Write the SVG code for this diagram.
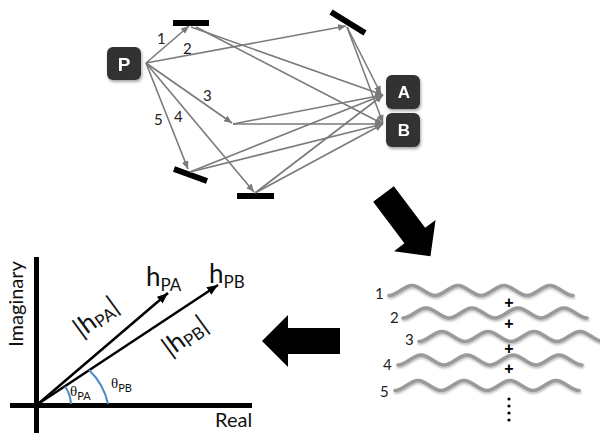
<svg xmlns="http://www.w3.org/2000/svg" width="600" height="433" viewBox="0 0 600 433">
<style>
  .lbl{font-family:"Lato","Liberation Sans",sans-serif;fill:#111}
  .dig{font-family:"Lato","Liberation Sans",sans-serif;font-size:15px;fill:#222}
  .box{fill:#333}
  .boxt{font-family:"Liberation Sans",sans-serif;font-weight:bold;fill:#fff;text-anchor:middle}
  .ray{stroke:#7a7a7a;stroke-width:1.6;fill:none;marker-end:url(#gh)}
  .mir{fill:#000}
  .vec{stroke:#000;stroke-width:2.5;fill:none;marker-end:url(#bh)}
  .axis{stroke:#000;stroke-width:5}
  .arc{stroke:#4a8ac4;stroke-width:2;fill:none}
  .wave{stroke:#9a9a9a;stroke-width:3.5;fill:none;stroke-linecap:round;filter:url(#sh)}
  .th{font-family:"Liberation Serif",serif;fill:#111}
  .plus{font-family:"Liberation Sans",sans-serif;font-size:16px;font-weight:bold;fill:#000;text-anchor:middle}
</style>
<defs>
  <marker id="gh" markerUnits="userSpaceOnUse" markerWidth="9" markerHeight="8" refX="8" refY="3.5" orient="auto">
    <path d="M0,0 L8,3.5 L0,7 z" fill="#7a7a7a"/>
  </marker>
  <marker id="bh" markerUnits="userSpaceOnUse" markerWidth="12" markerHeight="10" refX="11" refY="4.5" orient="auto">
    <path d="M0,0 L11,4.5 L0,9 z" fill="#000"/>
  </marker>
  <filter id="sh" x="-10%" y="-30%" width="120%" height="180%">
    <feDropShadow dx="0.5" dy="1.5" stdDeviation="1" flood-color="#000" flood-opacity="0.3"/>
  </filter>
  <filter id="bs" x="-20%" y="-20%" width="150%" height="150%">
    <feDropShadow dx="1" dy="2" stdDeviation="1.5" flood-color="#000" flood-opacity="0.35"/>
  </filter>
  <polygon id="bigarrow" points="0,-13 52,-13 52,-26 78,0 52,26 52,13 0,13" fill="#000"/>
  <path id="wave" d="M0,5 c8.3,0 14.7,-10 23,-10 c8.3,0 14.7,10 23,10 c8.3,0 14.7,-10 23,-10 c8.3,0 14.7,10 23,10 c8.3,0 14.7,-10 23,-10 c8.3,0 14.7,10 23,10 c8.3,0 14.7,-10 23,-10 c8.3,0 14.7,10 23,10"/>
</defs>
<rect width="600" height="433" fill="#fff"/>

<!-- mirrors -->
<g id="mirror-top"><rect class="mir" x="173" y="20" width="36" height="6"/></g>
<g id="mirror-topright"><line x1="331" y1="12" x2="365" y2="33" stroke="#000" stroke-width="6"/></g>
<g id="mirror-bottomleft"><line x1="174" y1="169" x2="207" y2="181" stroke="#000" stroke-width="6"/></g>
<g id="mirror-bottom"><rect class="mir" x="237" y="193" width="37" height="6"/></g>

<!-- connectors -->
<g id="connectors">
  <line class="ray" x1="146" y1="63" x2="189" y2="26"/>
  <line class="ray" x1="146" y1="63" x2="346" y2="26"/>
  <line class="ray" x1="146" y1="63" x2="232" y2="123"/>
  <line class="ray" x1="146" y1="63" x2="254" y2="192"/>
  <line class="ray" x1="146" y1="63" x2="188" y2="169"/>
  <line class="ray" x1="191" y1="27" x2="383" y2="95"/>
  <line class="ray" x1="196" y1="27" x2="383" y2="124"/>
  <line class="ray" x1="347" y1="27" x2="381" y2="94"/>
  <line class="ray" x1="347" y1="27" x2="383" y2="123"/>
  <line class="ray" x1="233" y1="124" x2="383" y2="95"/>
  <line class="ray" x1="233" y1="124" x2="383" y2="124"/>
  <line class="ray" x1="190" y1="172" x2="383" y2="95"/>
  <line class="ray" x1="190" y1="172" x2="383" y2="124"/>
  <line class="ray" x1="255" y1="193" x2="383" y2="95"/>
  <line class="ray" x1="255" y1="193" x2="383" y2="124"/>
</g>

<g id="ray-labels">
  <text class="dig" x="157" y="44">1</text>
  <text class="dig" x="183" y="54">2</text>
  <text class="dig" x="203" y="101">3</text>
  <text class="dig" x="174" y="122">4</text>
  <text class="dig" x="154" y="125">5</text>
</g>

<g id="node-P" filter="url(#bs)">
  <rect class="box" x="107" y="47" width="34" height="33" rx="6"/>
  <text class="boxt" x="124" y="71" font-size="19">P</text>
</g>
<g id="node-A" filter="url(#bs)">
  <rect class="box" x="386" y="75" width="34" height="34" rx="6"/>
  <text class="boxt" x="404" y="98" font-size="17">A</text>
</g>
<g id="node-B" filter="url(#bs)">
  <rect class="box" x="386" y="113" width="34" height="34" rx="6"/>
  <text class="boxt" x="404" y="136" font-size="17">B</text>
</g>

<!-- big arrows -->
<g id="arrow-diag"><use href="#bigarrow" transform="translate(383.5,194) rotate(53)"/></g>
<g id="arrow-left"><use href="#bigarrow" transform="translate(340,341) rotate(180)"/></g>

<!-- waves -->
<g id="waves">
  <use href="#wave" class="wave" transform="translate(389,290.5)"/>
  <use href="#wave" class="wave" transform="translate(403,313)"/>
  <use href="#wave" class="wave" transform="translate(419,336.5)"/>
  <use href="#wave" class="wave" transform="translate(398,360)"/>
  <use href="#wave" class="wave" transform="translate(395,385.5)"/>
  <text class="dig" x="375" y="299">1</text>
  <text class="dig" x="390" y="323">2</text>
  <text class="dig" x="405" y="345">3</text>
  <text class="dig" x="383" y="370">4</text>
  <text class="dig" x="380" y="397">5</text>
  <text class="plus" x="509" y="308">+</text>
  <text class="plus" x="509" y="329">+</text>
  <text class="plus" x="509" y="354">+</text>
  <text class="plus" x="509" y="374">+</text>
  <g fill="#000">
    <circle cx="509" cy="399" r="1.6"/>
    <circle cx="509" cy="406" r="1.6"/>
    <circle cx="509" cy="413" r="1.6"/>
    <circle cx="509" cy="420" r="1.6"/>
  </g>
</g>

<!-- phasor graph -->
<g id="graph">
  <line class="axis" x1="36.5" y1="257" x2="36.5" y2="433"/>
  <line class="axis" x1="10" y1="405.5" x2="252" y2="405.5"/>
  <line class="vec" x1="38" y1="404" x2="168" y2="293"/>
  <line class="vec" x1="38" y1="404" x2="218" y2="285"/>
  <path class="arc" d="M71,404 A33,33 0 0 0 65,386.5"/>
  <path class="arc" d="M108,404 A66,66 0 0 0 89,370"/>
  <text class="lbl" transform="translate(23,304) rotate(-90)" font-size="20" text-anchor="middle">Imaginary</text>
  <text class="lbl" x="215" y="427" font-size="20">Real</text>
  <text class="lbl" x="146" y="286" font-size="26">h<tspan font-size="17" dy="5">PA</tspan></text>
  <text class="lbl" x="209" y="283" font-size="26">h<tspan font-size="17" dy="5">PB</tspan></text>
  <text class="lbl" transform="translate(101,324) rotate(-36)" font-size="26" text-anchor="middle">|h<tspan font-size="17" dy="3">PA</tspan><tspan dy="-3">|</tspan></text>
  <text class="lbl" transform="translate(190,343) rotate(-36)" font-size="26" text-anchor="middle">|h<tspan font-size="17" dy="3">PB</tspan><tspan dy="-3">|</tspan></text>
  <text class="th" x="70" y="396" font-size="15">θ<tspan font-family="Lato, Liberation Sans, sans-serif" font-size="11" dy="4">PA</tspan></text>
  <text class="th" x="111" y="388" font-size="15">θ<tspan font-family="Lato, Liberation Sans, sans-serif" font-size="11" dy="4">PB</tspan></text>
</g>
</svg>
